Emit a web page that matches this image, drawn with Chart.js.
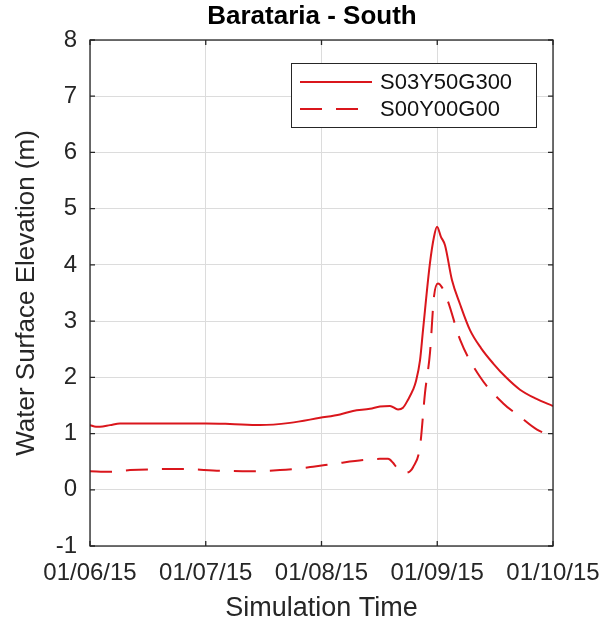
<!DOCTYPE html>
<html>
<head>
<meta charset="utf-8">
<script src="https://cdn.jsdelivr.net/npm/chart.js@4/dist/chart.umd.min.js"></script>
<style>
html,body{margin:0;padding:0;background:#fff;}
#c{display:block;}
</style>
</head>
<body>
<canvas id="c" width="599" height="625"></canvas>
<script>
// x positions are in months since 01/06/15 (tick spacing is one month)
const xTickLabels = ['01/06/15', '01/07/15', '01/08/15', '01/09/15', '01/10/15'];
const yTicks = [-1, 0, 1, 2, 3, 4, 5, 6, 7, 8];

const seriesNames = ['S03Y50G300', 'S00Y00G00'];

const xSolid = [0, 0.052, 0.086, 0.173, 0.259, 0.518, 0.778, 1.002, 1.209, 1.469, 1.728, 1.987, 2.160, 2.272, 2.419, 2.505, 2.592, 2.661, 2.704, 2.747, 2.791, 2.816, 2.851, 2.877, 2.937, 2.972, 2.998, 3.032, 3.067, 3.127, 3.197, 3.283, 3.378, 3.482, 3.594, 3.715, 3.853, 4.0];
const ySolid = [1.15, 1.12, 1.12, 1.15, 1.18, 1.18, 1.18, 1.18, 1.17, 1.15, 1.19, 1.28, 1.34, 1.40, 1.44, 1.48, 1.49, 1.43, 1.46, 1.60, 1.78, 1.93, 2.30, 2.84, 4.03, 4.50, 4.68, 4.50, 4.35, 3.73, 3.30, 2.84, 2.52, 2.25, 2.00, 1.78, 1.62, 1.49];

const xDashed = [0, 0.173, 0.346, 0.778, 1.123, 1.382, 1.641, 1.814, 1.927, 2.134, 2.359, 2.505, 2.575, 2.618, 2.652, 2.721, 2.765, 2.791, 2.851, 2.894, 2.937, 2.972, 3.006, 3.041, 3.093, 3.197, 3.369, 3.568, 3.715, 3.862, 4.0];
const yDashed = [0.33, 0.32, 0.35, 0.37, 0.34, 0.33, 0.35, 0.38, 0.41, 0.47, 0.53, 0.55, 0.55, 0.48, 0.39, 0.30, 0.33, 0.40, 0.77, 1.72, 2.43, 3.44, 3.67, 3.60, 3.35, 2.67, 2.01, 1.54, 1.30, 1.07, 0.95];

const RED = 'rgb(218,22,28)';
const AXIS = '#262626';
const FONT = '"Liberation Sans", Arial, Helvetica, sans-serif';

const toPts = (xs, ys) => xs.map((x, i) => ({x: x, y: ys[i]}));

const boxTicksPlugin = {
  id: 'boxTicks',
  afterDraw(chart) {
    const {ctx, chartArea: a, scales} = chart;
    ctx.save();
    ctx.strokeStyle = AXIS;
    ctx.lineWidth = 1.3;
    ctx.strokeRect(a.left, a.top, a.right - a.left, a.bottom - a.top);
    const L = 5;
    ctx.beginPath();
    scales.x.ticks.forEach(t => {
      const px = scales.x.getPixelForValue(t.value);
      ctx.moveTo(px, a.bottom); ctx.lineTo(px, a.bottom - L);
      ctx.moveTo(px, a.top); ctx.lineTo(px, a.top + L);
    });
    scales.y.ticks.forEach(t => {
      const py = scales.y.getPixelForValue(t.value);
      ctx.moveTo(a.left, py); ctx.lineTo(a.left + L, py);
      ctx.moveTo(a.right, py); ctx.lineTo(a.right - L, py);
    });
    ctx.stroke();

    // legend box (inside plot)
    const lx = 291, ly = 63, lw = 245, lh = 64;
    ctx.fillStyle = '#fff';
    ctx.fillRect(lx, ly, lw, lh);
    ctx.lineWidth = 1;
    ctx.strokeStyle = AXIS;
    ctx.strokeRect(lx + 0.5, ly + 0.5, lw, lh);
    const rows = [82, 109];
    chart.data.datasets.forEach((ds, i) => {
      ctx.beginPath();
      ctx.strokeStyle = ds.borderColor;
      ctx.lineWidth = ds.borderWidth;
      ctx.setLineDash(ds.borderDash || []);
      ctx.moveTo(300, rows[i]);
      ctx.lineTo(ds.borderDash ? 366 : 372, rows[i]);
      ctx.stroke();
      ctx.setLineDash([]);
      ctx.fillStyle = '#111';
      ctx.font = '22px ' + FONT;
      ctx.textBaseline = 'middle';
      ctx.textAlign = 'left';
      ctx.fillText(ds.label, 380, rows[i] + 1);
    });

    // main title
    ctx.fillStyle = '#000';
    ctx.font = 'bold 26px ' + FONT;
    ctx.textAlign = 'center';
    ctx.textBaseline = 'middle';
    ctx.fillText('Barataria - South', 312, 17);
    ctx.restore();
  }
};

new Chart(document.getElementById('c'), {
  type: 'line',
  data: {
    datasets: [
      {label: seriesNames[0], data: toPts(xSolid, ySolid), borderColor: RED, borderWidth: 2, pointRadius: 0, cubicInterpolationMode: 'monotone', fill: false},
      {label: seriesNames[1], data: toPts(xDashed, yDashed), borderColor: RED, borderWidth: 2, borderDash: [22, 14], pointRadius: 0, cubicInterpolationMode: 'monotone', fill: false}
    ]
  },
  options: {
    responsive: false,
    animation: false,
    layout: {padding: {left: 0, right: 46, top: 40, bottom: 0}},
    plugins: {legend: {display: false}, title: {display: false}, tooltip: {enabled: false}},
    scales: {
      x: {
        type: 'linear', min: 0, max: 4,
        afterBuildTicks: s => { s.ticks = xTickLabels.map((_, i) => ({value: i})); },
        afterFit: s => { s.height = 79; s.paddingLeft = 0; s.paddingRight = 0; },
        ticks: {autoSkip: false, maxRotation: 0, padding: 13, color: '#262626', font: {family: FONT, size: 24},
          callback: v => xTickLabels[v] ?? ''},
        grid: {color: '#dcdcdc', lineWidth: 1, drawTicks: false},
        border: {display: false},
        title: {display: true, text: 'Simulation Time', color: '#262626', font: {family: FONT, size: 27}, padding: {top: 1, bottom: 0}}
      },
      y: {
        min: -1, max: 8,
        afterBuildTicks: s => { s.ticks = yTicks.map(v => ({value: v})); },
        afterFit: s => { s.width = 90; s.paddingTop = 0; s.paddingBottom = 0; },
        ticks: {padding: 13, color: '#262626', font: {family: FONT, size: 24}},
        grid: {color: '#dcdcdc', lineWidth: 1, drawTicks: false},
        border: {display: false},
        title: {display: true, text: 'Water Surface Elevation (m)', color: '#262626', font: {family: FONT, size: 26}, padding: {top: 11, bottom: 0}}
      }
    }
  },
  plugins: [boxTicksPlugin]
});
</script>
</body>
</html>
